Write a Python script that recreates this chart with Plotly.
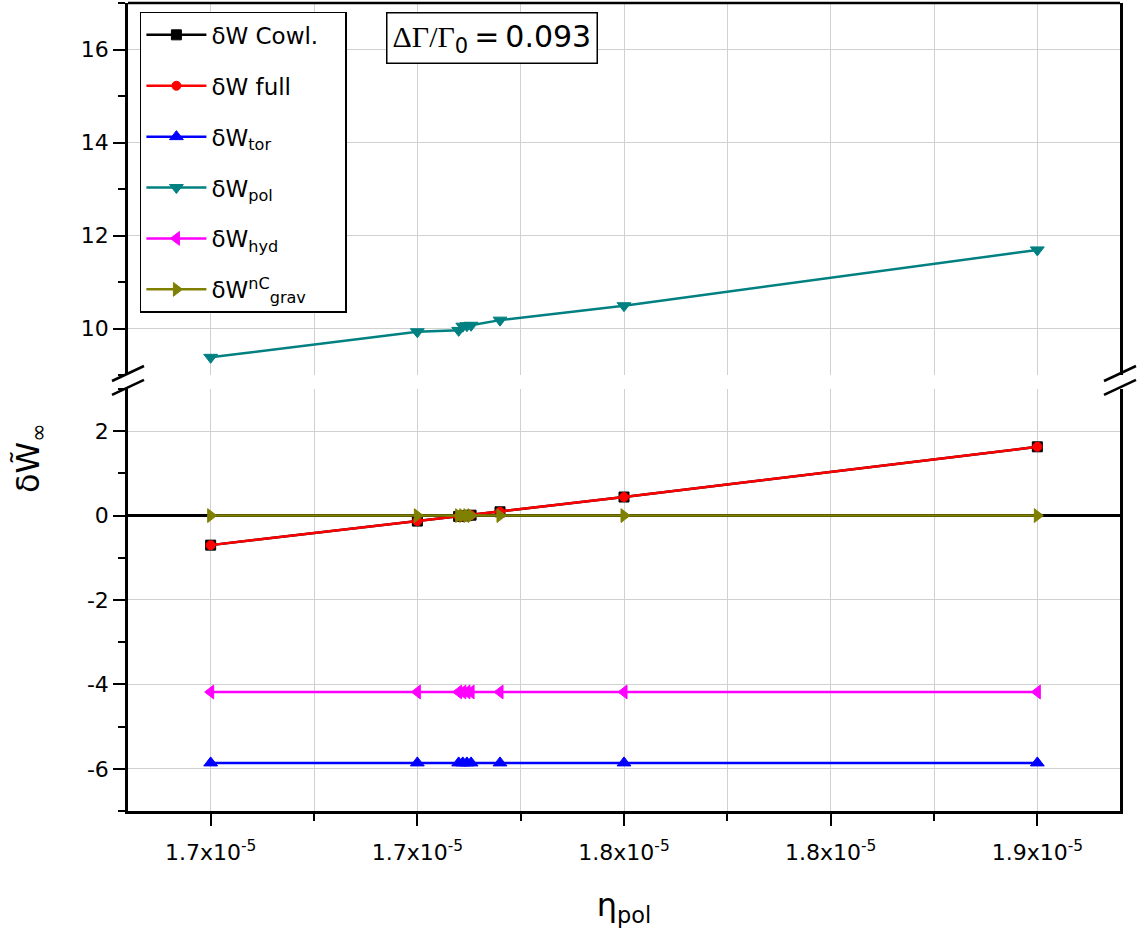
import plotly.graph_objects as go

# ---- data ----
eta_pol = [1.70e-5, 1.75e-5, 1.76e-5, 1.761e-5, 1.762e-5, 1.763e-5, 1.77e-5, 1.80e-5, 1.90e-5]
dW_cowl = [-0.70, -0.13, -0.02, -0.01, 0.00, 0.01, 0.09, 0.44, 1.63]
dW_full = [-0.70, -0.13, -0.02, -0.01, 0.00, 0.01, 0.09, 0.44, 1.63]
dW_tor = [-5.86] * 9
dW_pol = [9.38, 9.93, 9.96, 10.05, 10.06, 10.07, 10.18, 10.49, 11.69]
dW_hyd = [-4.18] * 9
dW_grav = [0.0] * 9

x_tickvals = [1.70e-5, 1.75e-5, 1.80e-5, 1.85e-5, 1.90e-5]
x_ticktext = ["1.7x10<sup>-5</sup>", "1.7x10<sup>-5</sup>", "1.8x10<sup>-5</sup>",
              "1.8x10<sup>-5</sup>", "1.9x10<sup>-5</sup>"]
x_minor = [1.725e-5, 1.775e-5, 1.825e-5, 1.875e-5]
y_low_tickvals = [-6, -4, -2, 0, 2]
y_low_ticktext = ["-6", "-4", "-2", "0", "2"]
y_high_tickvals = [10, 12, 14, 16]
y_high_ticktext = ["10", "12", "14", "16"]

series = [
    ("δW Cowl.", dW_cowl, "black", "square", "y", 10),
    ("δW full", dW_full, "red", "circle", "y", 9),
    ("δW<sub>tor</sub>", dW_tor, "blue", "triangle-up", "y", 12),
    ("δW<sub>pol</sub>", dW_pol, "#008080", "triangle-down", "y2", 12),
    ("δW<sub>hyd</sub>", dW_hyd, "magenta", "triangle-left", "y", 12),
    ("δW<sup>nC</sup><sub>grav</sub>", dW_grav, "#808000", "triangle-right", "y", 12),
]

fig = go.Figure()
for i, (name, ys, col, sym, yax, ms) in enumerate(series):
    fig.add_trace(go.Scatter(
        x=eta_pol, y=ys, name=name + "\u00a0\u00a0\u00a0", yaxis=yax, mode="lines+markers",
        legendgroup=f"g{i}",
        line=dict(color=col, width=2.5),
        marker=dict(symbol=sym, size=ms, color=col,
                    line=dict(color="black" if name == "δW Cowl." else col, width=1)),
    ))

FONT = "DejaVu Sans, sans-serif"
grid = "#d0d0d0"

bot_dom = [0.0, 0.5223]
top_dom = [0.5396, 1.0]

fig.update_layout(
    width=1139, height=949,
    margin=dict(l=128, r=19, t=3, b=138),
    paper_bgcolor="white", plot_bgcolor="white",
    font=dict(family=FONT, color="black", size=22),
    showlegend=True,
    legend=dict(x=0.012, y=0.989, xanchor="left", yanchor="top",
                bgcolor="white", bordercolor="black", borderwidth=1.5,
                font=dict(size=23, family=FONT),
                tracegroupgap=18, itemwidth=60),
    xaxis=dict(range=[1.68e-5, 1.92e-5], anchor="y",
               tickmode="array", tickvals=x_tickvals, ticktext=x_ticktext,
               ticks="outside", ticklen=12, tickwidth=2, tickcolor="black",
               ticklabelstandoff=8,
               showline=True, linecolor="black", linewidth=2.5,
               showgrid=True, gridcolor=grid, gridwidth=1, zeroline=False,
               tickfont=dict(family=FONT, size=22),
               minor=dict(tickmode="array", tickvals=x_minor, ticks="outside",
                          ticklen=7, tickwidth=2, tickcolor="black",
                          showgrid=True, gridcolor=grid, gridwidth=1),
               title=dict(text="η<sub>pol</sub>", font=dict(size=32, family=FONT),
                          standoff=30)),
    yaxis=dict(domain=bot_dom, range=[-7, 3], anchor="x",
               tickmode="array", tickvals=y_low_tickvals, ticktext=y_low_ticktext,
               ticks="outside", ticklen=12, tickwidth=2, tickcolor="black",
               showline=True, linecolor="black", linewidth=2.5, mirror=True,
               showgrid=True, gridcolor=grid, gridwidth=1,
               zeroline=True, zerolinecolor="black", zerolinewidth=2.5,
               tickfont=dict(size=22),
               minor=dict(tickmode="linear", tick0=-7, dtick=1, ticks="outside",
                          ticklen=7, tickwidth=2, tickcolor="black", showgrid=False)),
    yaxis2=dict(domain=top_dom, range=[9, 17], anchor="x",
                tickmode="array", tickvals=y_high_tickvals, ticktext=y_high_ticktext,
                ticks="outside", ticklen=12, tickwidth=2, tickcolor="black",
                showline=True, linecolor="black", linewidth=2.5, mirror=True,
                showgrid=True, gridcolor=grid, gridwidth=1, zeroline=False,
                tickfont=dict(size=22),
                minor=dict(tickmode="linear", tick0=9, dtick=1, ticks="outside",
                           ticklen=7, tickwidth=2, tickcolor="black", showgrid=False)),
)

# top frame line
fig.add_shape(type="line", xref="paper", yref="paper", x0=0, x1=1, y0=1, y1=1,
              line=dict(color="black", width=2.5))

# axis-break marks
for xp in (0, 1):
    for yp in (top_dom[0], bot_dom[1]):
        fig.add_shape(type="line", xref="paper", yref="paper",
                      x0=xp - 16 / 992, x1=xp + 16 / 992,
                      y0=yp - 6 / 808, y1=yp + 9 / 808,
                      line=dict(color="black", width=2.5))

# y-axis title
fig.add_annotation(text="δW̃<sub>∞</sub>", xref="paper", yref="paper",
                   x=-98 / 992, y=(811 - 458) / 808, textangle=-90,
                   xanchor="center", yanchor="middle",
                   showarrow=False, font=dict(size=32, family=FONT))

# parameter box
fig.add_annotation(
    text='<span style="font-family:Liberation Serif">ΔΓ/Γ</span><sub>0</sub>\u2009=\u20090.093',
    xref="paper", yref="paper", x=(386 - 128) / 992, y=(811 - 12) / 808,
    xanchor="left", yanchor="top", showarrow=False,
    bordercolor="black", borderwidth=1.5, borderpad=5, bgcolor="white",
    font=dict(size=30, family=FONT))

fig.write_html("out.html")
